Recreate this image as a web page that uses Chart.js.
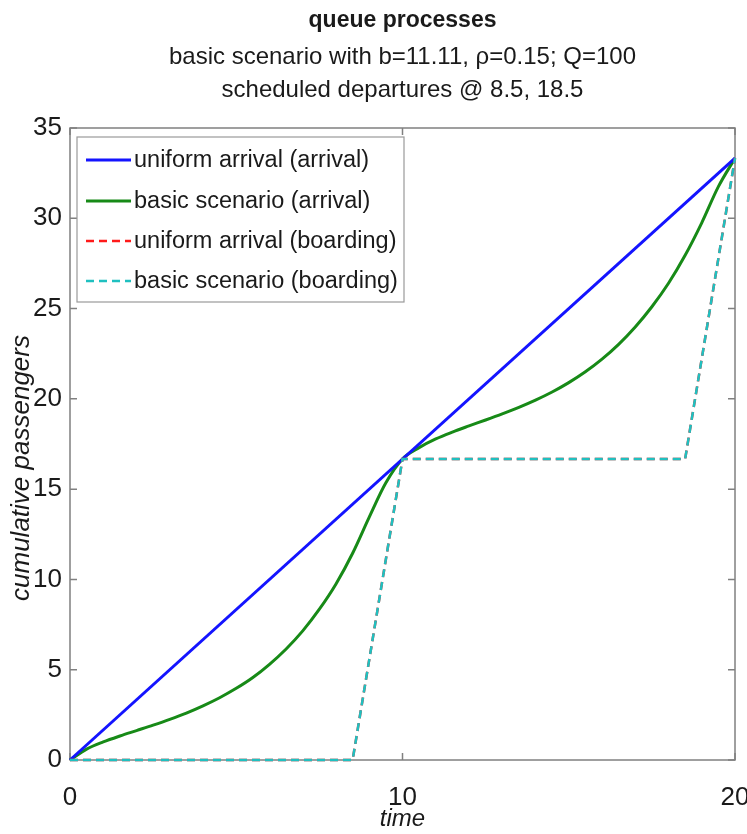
<!DOCTYPE html>
<html>
<head>
<meta charset="utf-8">
<script src="https://cdn.jsdelivr.net/npm/chart.js@4.4.1/dist/chart.umd.min.js"></script>
<style>
  html, body { margin: 0; padding: 0; background: #fff; }
  #wrap { width: 747px; height: 834px; }
</style>
</head>
<body>
<div id="wrap"><canvas id="chart" width="747" height="834"></canvas></div>
<script>
/* global Chart */

const titleLines = [
  "queue processes",
  "basic scenario with b=11.11, \u03c1=0.15; Q=100",
  "scheduled departures @ 8.5, 18.5",
];
const xLabel = "time";
const yLabel = "cumulative passengers";

const xTicks = [0, 10, 20];
const yTicks = [0, 5, 10, 15, 20, 25, 30, 35];

// uniform arrival: straight line
const uniformT = [0, 20];
const uniformArrival = [0, 33.33];

// basic scenario arrival curve
const basicT = [0, 0.5, 1, 1.5, 2, 2.5, 3, 3.5, 4, 4.5, 5, 5.5, 6, 6.5, 7, 7.5, 8, 8.5, 9, 9.5, 10,
  10.5, 11, 11.5, 12, 12.5, 13, 13.5, 14, 14.5, 15, 15.5, 16, 16.5, 17, 17.5, 18, 18.5, 19, 19.5, 20];
const basicArrival = [0, 0.6, 1.0, 1.33, 1.63, 1.93, 2.25, 2.6, 3.0, 3.45, 3.97, 4.57, 5.3, 6.15, 7.15, 8.35, 9.75, 11.45, 13.45, 15.35, 16.67,
  17.3, 17.78, 18.16, 18.5, 18.83, 19.17, 19.53, 19.93, 20.38, 20.9, 21.5, 22.2, 23.02, 23.98, 25.1, 26.4, 27.95, 29.75, 31.75, 33.33];

// boarding: both scenarios board at the scheduled departures
const boardT = [0, 8.5, 10, 18.5, 20];
const uniformBoarding = [0, 0, 16.67, 16.67, 33.33];
const basicBoarding = [0, 0, 16.67, 16.67, 33.33];

const FONT = "'Liberation Sans', Arial, sans-serif";
const TEXT = "#1a1a1a";

function pts(xs, ys) {
  return xs.map((x, i) => ({ x, y: ys[i] }));
}

// MATLAB-ish box with inward ticks on all four sides (under the lines)
const framePlugin = {
  id: "frame",
  beforeDatasetsDraw(chart) {
    const { ctx, chartArea: a, scales } = chart;
    ctx.save();
    ctx.strokeStyle = "#808080";
    ctx.lineWidth = 1.5;
    ctx.strokeRect(a.left, a.top, a.right - a.left, a.bottom - a.top);
    const len = 7;
    ctx.beginPath();
    xTicks.forEach((v) => {
      const px = scales.x.getPixelForValue(v);
      ctx.moveTo(px, a.bottom); ctx.lineTo(px, a.bottom - len);
      ctx.moveTo(px, a.top); ctx.lineTo(px, a.top + len);
    });
    yTicks.forEach((v) => {
      const py = scales.y.getPixelForValue(v);
      ctx.moveTo(a.left, py); ctx.lineTo(a.left + len, py);
      ctx.moveTo(a.right, py); ctx.lineTo(a.right - len, py);
    });
    ctx.stroke();
    ctx.restore();
  },
};

// title block centred over the plot area, plus the y label
const titlePlugin = {
  id: "titles",
  afterDraw(chart) {
    const { ctx, chartArea: a } = chart;
    const cx = (a.left + a.right) / 2;
    ctx.save();
    ctx.fillStyle = TEXT;
    ctx.textAlign = "center";
    ctx.textBaseline = "middle";
    ctx.font = "bold 23px " + FONT;
    ctx.fillText(titleLines[0], cx, 21);
    ctx.font = "24px " + FONT;
    ctx.fillText(titleLines[1], cx, 57);
    ctx.fillText(titleLines[2], cx, 90);
    ctx.translate(22, 468);
    ctx.rotate(-Math.PI / 2);
    ctx.font = "italic 26px " + FONT;
    ctx.fillText(yLabel, 0, 0);
    ctx.restore();
  },
};

// legend box in the upper-left corner of the axes
const legendPlugin = {
  id: "boxLegend",
  afterDatasetsDraw(chart) {
    const { ctx, chartArea: a } = chart;
    const x0 = a.left + 7, y0 = a.top + 9, w = 327, h = 165;
    ctx.save();
    ctx.fillStyle = "#fff";
    ctx.fillRect(x0, y0, w, h);
    ctx.strokeStyle = "#9a9a9a";
    ctx.lineWidth = 1.2;
    ctx.strokeRect(x0, y0, w, h);
    const rows = [160, 201, 241, 281];
    chart.data.datasets.forEach((ds, i) => {
      const y = rows[i];
      ctx.beginPath();
      ctx.setLineDash(ds.borderDash || []);
      ctx.strokeStyle = ds.borderColor;
      ctx.lineWidth = ds.borderWidth;
      ctx.moveTo(x0 + 9, y);
      ctx.lineTo(x0 + 54, y);
      ctx.stroke();
      ctx.setLineDash([]);
      ctx.fillStyle = TEXT;
      ctx.font = "23.5px " + FONT;
      ctx.textBaseline = "middle";
      ctx.textAlign = "left";
      ctx.fillText(ds.label, x0 + 57, y + 1);
    });
    ctx.restore();
  },
};

new Chart(document.getElementById("chart"), {
  type: "line",
  data: {
    datasets: [
      { label: "uniform arrival (arrival)", data: pts(uniformT, uniformArrival), borderColor: "#1414ff", borderWidth: 3, pointRadius: 0, order: 3, clip: 5 },
      { label: "basic scenario (arrival)", data: pts(basicT, basicArrival), borderColor: "#178a17", borderWidth: 3, pointRadius: 0, cubicInterpolationMode: "monotone", order: 4, clip: 5 },
      { label: "uniform arrival (boarding)", data: pts(boardT, uniformBoarding), borderColor: "#ff1a1a", borderWidth: 2.5, borderDash: [8, 5], pointRadius: 0, order: 2, clip: 5 },
      { label: "basic scenario (boarding)", data: pts(boardT, basicBoarding), borderColor: "#1fc0c0", borderWidth: 2.5, borderDash: [8, 5], pointRadius: 0, order: 1, clip: 5 },
    ],
  },
  options: {
    responsive: false,
    animation: false,
    layout: { padding: { top: 128, right: 12, left: 6, bottom: 0 } },
    plugins: { legend: { display: false }, title: { display: false }, tooltip: { enabled: false } },
    scales: {
      x: {
        type: "linear",
        min: 0,
        max: 20,
        afterBuildTicks: (s) => { s.ticks = xTicks.map((v) => ({ value: v })); },
        afterFit: (s) => { s.height = 74; s.paddingLeft = 0; s.paddingRight = 0; },
        grid: { display: false, drawTicks: false },
        border: { display: false },
        ticks: { color: TEXT, font: { family: FONT, size: 26 }, padding: 22 },
        title: { display: true, text: xLabel, color: TEXT, font: { family: FONT, size: 24, style: "italic" }, padding: { top: 0, bottom: 0 } },
      },
      y: {
        min: 0,
        max: 35,
        afterBuildTicks: (s) => { s.ticks = yTicks.map((v) => ({ value: v })); },
        afterFit: (s) => { s.width = 64; s.paddingTop = 0; s.paddingBottom = 0; },
        grid: { display: false, drawTicks: false },
        border: { display: false },
        ticks: { color: TEXT, font: { family: FONT, size: 26 }, padding: 8 },
      },
    },
  },
  plugins: [framePlugin, titlePlugin, legendPlugin],
});
</script>
</body>
</html>
